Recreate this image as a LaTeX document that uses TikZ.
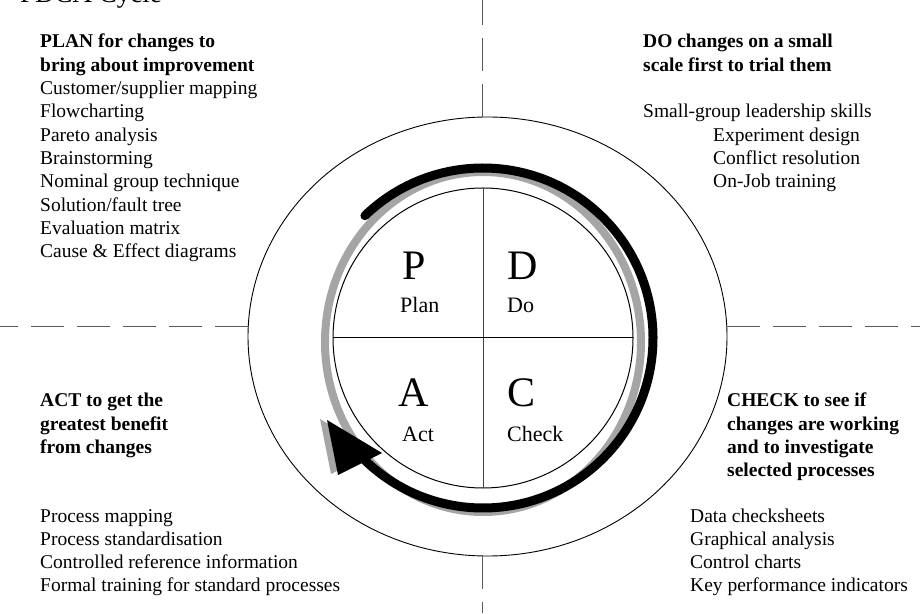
\documentclass[tikz,border=0pt]{standalone}
\usepackage{fontspec}
\setmainfont{Liberation Serif}
\definecolor{ringgray}{RGB}{165,165,165}
\definecolor{divgray}{RGB}{90,90,90}
\begin{document}
\begin{tikzpicture}[x=1pt,y=1pt,
  txt/.style={anchor=base west, inner sep=0pt, font=\fontsize{19.5}{23.3}\selectfont},
  hd/.style={anchor=base west, inner sep=0pt, font=\fontsize{19.5}{23.3}\selectfont\bfseries},
  big/.style={anchor=base west, inner sep=0pt, font=\fontsize{42}{46}\selectfont},
  lbl/.style={anchor=base west, inner sep=0pt, font=\fontsize{22}{26}\selectfont},
  divider/.style={dash pattern=on 33pt off 13pt, line width=1pt, divgray},
  thinline/.style={line width=0.9pt}
]
\useasboundingbox (0,0) rectangle (920,613);
\clip (0,0) rectangle (920,613);
\fill[white] (0,0) rectangle (920,613);

% title fragment (clipped at top)
\node[anchor=base west, inner sep=0pt, font=\fontsize{27}{30}\selectfont] (title) at (20,610) {PDCA Cycle};

% outer ellipse and dashed dividers
\draw[thinline] (487.5,276.5) ellipse[x radius=239.5, y radius=219.5];
\coordinate (eL) at (248,286);
\coordinate (eR) at (727,286);
\coordinate (eT) at (482,496);
\coordinate (eB) at (482,57);
\coordinate (fL) at (0,286);
\coordinate (fR) at (920,286);
\coordinate (fT) at (482,613);
\coordinate (fB) at (482,0);
\draw[divider] (eL) -- (fL);
\draw[divider] (eR) -- (fR);
\draw[divider] (eT) -- (fT);
\draw[divider] (eB) -- (fB);

% gray ring (shadow)
\draw[ringgray, line width=8pt] (483,271) ellipse[x radius=158, y radius=170];
\fill[ringgray] (320,194) -- (331,139) -- (375,161) -- cycle;

% black cycle arrow
\draw[line width=9pt, line cap=round] (483,275) ++(134:170) arc[start angle=134, end angle=-136, radius=170];
\fill (327,193) -- (338,138) -- (382,160) -- cycle;

% inner circle with quadrants
\draw[line width=1pt] (483,275) circle[radius=150];
\draw[line width=0.8pt, black!75] (483,425) -- (483,125);
\draw[line width=1pt] (333,275) -- (633,275);

\node[big] (P) at (402,333) {P};
\node[lbl] (plan) at (400,300) {Plan};
\node[big] (D) at (507,333) {D};
\node[lbl] (do) at (507,300) {Do};
\node[big] (A) at (398,206) {A};
\node[lbl] (act) at (402,171) {Act};
\node[big] (C) at (507,206) {C};
\node[lbl] (check) at (507,171) {Check};

% PLAN block
\foreach \t [count=\i from 0] in {{PLAN for changes to},{bring about improvement}}
  \node[hd] (planh\i) at (40,565-\i*23.3) {\t};
\foreach \t [count=\i from 0] in {{Customer/supplier mapping},{Flowcharting},{Pareto analysis},{Brainstorming},{Nominal group technique},{Solution/fault tree},{Evaluation matrix},{Cause \& Effect diagrams}}
  \node[txt] (planl\i) at (40,518.4-\i*23.3) {\t};

% DO block
\foreach \t [count=\i from 0] in {{DO changes on a small},{scale first to trial them}}
  \node[hd] (doh\i) at (643,565-\i*23.3) {\t};
\node[txt] (dol0) at (643,495) {Small-group leadership skills};
\foreach \t [count=\i from 1] in {{Experiment design},{Conflict resolution},{On-Job training}}
  \node[txt] (dol\i) at (713,495-\i*23.3) {\t};

% ACT block
\foreach \t [count=\i from 0] in {{ACT to get the},{greatest benefit},{from changes}}
  \node[hd] (acth\i) at (40,206-\i*23.3) {\t};
\foreach \t [count=\i from 0] in {{Process mapping},{Process standardisation},{Controlled reference information},{Formal training for standard processes}}
  \node[txt] (actl\i) at (40,91-\i*23.3) {\t};

% CHECK block
\foreach \t [count=\i from 0] in {{CHECK to see if},{changes are working},{and to investigate},{selected processes}}
  \node[hd] (checkh\i) at (727,206-\i*23.3) {\t};
\foreach \t [count=\i from 0] in {{Data checksheets},{Graphical analysis},{Control charts},{Key performance indicators}}
  \node[txt] (checkl\i) at (690,91-\i*23.3) {\t};
\end{tikzpicture}
\end{document}
